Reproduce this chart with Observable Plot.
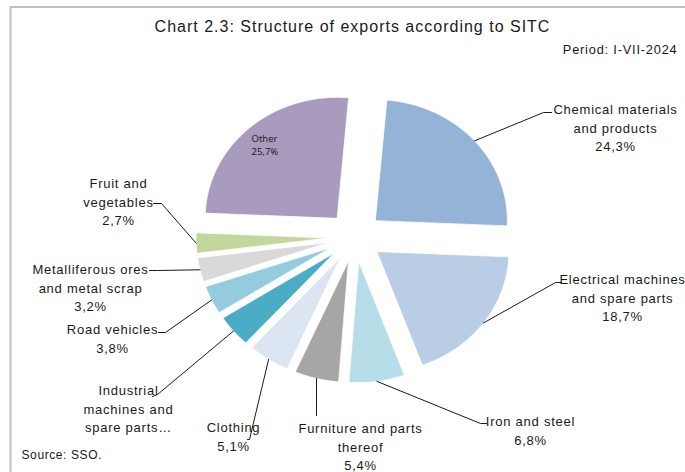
<!DOCTYPE html>
<html><head><meta charset="utf-8">
<script src="https://cdn.jsdelivr.net/npm/d3@7"></script>
<script src="https://cdn.jsdelivr.net/npm/@observablehq/plot@0.6"></script>
<style>
html,body{margin:0;padding:0;background:#fff;overflow:hidden;}
#chart{width:685px;height:472px;}
</style></head><body><div id="chart"></div>
<script>
// ---- data ----
const categories = ["Chemical materials and products","Electrical machines and spare parts","Iron and steel","Furniture and parts thereof","Clothing","Industrial machines and spare parts","Road vehicles","Metalliferous ores and metal scrap","Fruit and vegetables","Other"];
const shares = [24.3, 18.7, 6.8, 5.4, 5.1, 4.3, 3.8, 3.2, 2.7, 25.7];
const labelNames = ["Chemical materials\nand products","Electrical machines\nand spare parts","Iron and steel","Furniture and parts\nthereof","Clothing","Industrial\nmachines and\nspare parts…","Road vehicles","Metalliferous ores\nand metal scrap","Fruit and\nvegetables","Other"];
const showShare = [true,true,true,true,true,false,true,true,true,true];
const colors = ["#95B3D7","#B9CDE5","#B7DDE8","#A6A6A6","#DCE6F2","#4BACC6","#93CDDD","#D9D9D9","#C3D69B","#A99BBE"];
const title = "Chart 2.3: Structure of exports according to SITC";
const period = "Period: I-VII-2024";
const source = "Source: SSO.";

// ---- layout ----
const W = 685, H = 472;
const cx = 354.5, cy = 236.5, rx = 132, ry = 121, explode = 0.205, startAngle = 5;
const lineH = 18.4;
const labelLayout = [
  {elbow:[543,112], stub:[551,112], text:[615,108]},
  {elbow:[555,282], stub:[561,282], text:[622,278]},
  {elbow:[480,423], stub:[486,423], text:[530,420]},
  {elbow:[316,415], stub:null,      text:[360,427]},
  {elbow:[249,439], stub:[247,439], text:[233,426]},
  {elbow:[157,394], stub:[152,396], text:[128,389]},
  {elbow:[165,332], stub:[158,332], text:[112,328]},
  {elbow:[157,270], stub:[149,270], text:[90,268]},
  {elbow:[161,203], stub:[153,203], text:[118,182]},
  {inside:true, text:[264,137]}
];

// ---- geometry from data ----
const total = d3.sum(shares);
const rad = a => a * Math.PI / 180;
let acc = 0;
const slices = shares.map((v, i) => {
  const a0 = startAngle + acc / total * 360; acc += v;
  const a1 = startAngle + acc / total * 360;
  return {i, a0, a1, mid: (a0 + a1) / 2};
});
function pt(s, a, r) {
  return {
    i: s.i,
    x: cx + rx * (explode * Math.sin(rad(s.mid)) + r * Math.sin(rad(a))),
    y: cy - ry * (explode * Math.cos(rad(s.mid)) + r * Math.cos(rad(a)))
  };
}
const slicePolys = slices.map(s => {
  const pts = [pt(s, s.mid, 0)];
  const n = Math.max(2, Math.ceil((s.a1 - s.a0) / 0.5));
  for (let k = 0; k <= n; k++) pts.push(pt(s, s.a0 + (s.a1 - s.a0) * k / n, 1));
  pts.push(pt(s, s.mid, 0));
  return pts;
});
const fmt = v => v.toFixed(1).replace(".", ",") + "%";
const leaders = [];
const outLabels = [];
const insideLabel = [];
const insideLH = 13;
slices.forEach(s => {
  const L = labelLayout[s.i];
  const text = labelNames[s.i] + (showShare[s.i] ? "\n" + fmt(shares[s.i]) : "");
  const nLines = text.split("\n").length;
  if (L.inside) {
    insideLabel.push({x: L.text[0], y: L.text[1] + (nLines - 1) * insideLH / 2, text});
    return;
  }
  const p0 = pt(s, s.mid, 1);
  leaders.push(p0);
  leaders.push({i: s.i, x: L.elbow[0], y: L.elbow[1]});
  if (L.stub) leaders.push({i: s.i, x: L.stub[0], y: L.stub[1]});
  outLabels.push({x: L.text[0], y: L.text[1] + (nLines - 1) * lineH / 2, text});
});

const font = "'Liberation Sans', Arial, sans-serif";
const marks = [
  Plot.frame({stroke: "#C0C0C0", strokeWidth: 2, insetLeft: 10, insetTop: 6.5, insetRight: -30, insetBottom: -30}),
  ...slicePolys.map((poly, i) => Plot.line(poly, {x: "x", y: "y", fill: colors[i], stroke: "white", strokeWidth: 0.75, curve: "linear"})),
  Plot.line(leaders, {x: "x", y: "y", z: "i", stroke: "#000", strokeWidth: 0.9}),
  Plot.text(outLabels, {x: "x", y: "y", text: "text", textAnchor: "middle", lineAnchor: "middle", lineHeight: lineH / 13, fontSize: 13, fontFamily: font, fill: "#1a1a1a"}),
  Plot.text(insideLabel, {x: "x", y: "y", text: "text", textAnchor: "start", lineAnchor: "middle", lineHeight: insideLH / 9.5, fontSize: 9.5, fontFamily: "'Noto Sans', sans-serif", fill: "#222", dx: -13}),
  Plot.text([title], {x: () => 352, y: () => 26, text: d => d, textAnchor: "middle", fontSize: 16, fontFamily: font, fill: "#1a1a1a"}),
  Plot.text([period], {x: () => 677, y: () => 49, text: d => d, textAnchor: "end", fontSize: 12.8, fontFamily: font, fill: "#1a1a1a"}),
  Plot.text([source], {x: () => 21, y: () => 455, text: d => d, textAnchor: "start", fontSize: 12, fontFamily: font, fill: "#1a1a1a"})
];

const chart = Plot.plot({
  width: W, height: H,
  margin: 0,
  x: {domain: [0, W], range: [0, W], axis: null},
  y: {domain: [0, H], range: [0, H], axis: null},
  style: {background: "white", fontFamily: font},
  marks
});
d3.select(chart).selectAll("g[font-size='16']").attr("letter-spacing", "1px");
d3.select(chart).selectAll("g[font-size='13']").attr("letter-spacing", "0.75px");
d3.select(chart).selectAll("g[font-size='12.8']").attr("letter-spacing", "0.8px");
d3.select(chart).selectAll("g[font-size='12']").attr("letter-spacing", "0.6px");
document.getElementById("chart").appendChild(chart);
</script></body></html>
